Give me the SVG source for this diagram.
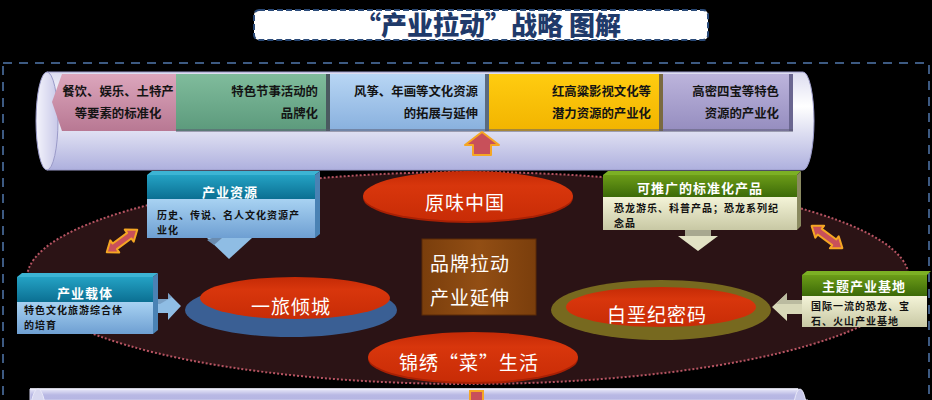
<svg xmlns="http://www.w3.org/2000/svg" width="932" height="400" viewBox="0 0 932 400">
<defs>
<style>
.cjk{font-family:"Noto Sans CJK SC","Noto Sans",sans-serif;}
.pipeT{font-size:12.4px;font-weight:700;fill:#141414;}
.ellT{font-size:19px;fill:#ffffff;text-anchor:middle;letter-spacing:1px;}
.hdrT{font-size:13px;font-weight:700;fill:#ffffff;text-anchor:middle;letter-spacing:1px;}
.bodyT{font-size:10px;font-weight:700;fill:#111111;letter-spacing:1px;}
.dbl{fill:#c8505a;stroke:#f5a623;stroke-width:2;stroke-linejoin:round;}
</style>
<linearGradient id="gPipe" x1="0" y1="0" x2="0" y2="1">
<stop offset="0" stop-color="#dcdcf0"/><stop offset="0.35" stop-color="#ffffff"/><stop offset="1" stop-color="#aeb0de"/>
</linearGradient>
<linearGradient id="gCap" x1="0" y1="0" x2="1" y2="0">
<stop offset="0" stop-color="#f4f4fc"/><stop offset="1" stop-color="#c8c8e8"/>
</linearGradient>
<linearGradient id="gPipe2" x1="0" y1="0" x2="0" y2="1">
<stop offset="0" stop-color="#e8e8f8"/><stop offset="0.15" stop-color="#b8b8e4"/><stop offset="1" stop-color="#a8a8dc"/>
</linearGradient>
<linearGradient id="gPink" x1="0" y1="0" x2="0" y2="1"><stop offset="0" stop-color="#dca6bc"/><stop offset="1" stop-color="#b87893"/></linearGradient>
<linearGradient id="gGreen" x1="0" y1="0" x2="0" y2="1"><stop offset="0" stop-color="#80bc9c"/><stop offset="1" stop-color="#5c9a7c"/></linearGradient>
<linearGradient id="gBlue" x1="0" y1="0" x2="0" y2="1"><stop offset="0" stop-color="#b8d6f4"/><stop offset="1" stop-color="#88b0de"/></linearGradient>
<linearGradient id="gYellow" x1="0" y1="0" x2="0" y2="1"><stop offset="0" stop-color="#ffcc10"/><stop offset="1" stop-color="#f2b400"/></linearGradient>
<linearGradient id="gLav" x1="0" y1="0" x2="0" y2="1"><stop offset="0" stop-color="#bcb4dc"/><stop offset="1" stop-color="#958dbf"/></linearGradient>
<linearGradient id="gRed" x1="0" y1="0" x2="0" y2="1"><stop offset="0" stop-color="#c42a06"/><stop offset="0.3" stop-color="#d8360c"/><stop offset="1" stop-color="#c82c06"/></linearGradient>
<linearGradient id="gTeal" x1="0" y1="0" x2="0" y2="1"><stop offset="0" stop-color="#24a2c4"/><stop offset="1" stop-color="#0b6f92"/></linearGradient>
<linearGradient id="gLB" x1="0" y1="0" x2="0" y2="1"><stop offset="0" stop-color="#a8d2f2"/><stop offset="1" stop-color="#6e9fd2"/></linearGradient>
<linearGradient id="gGr" x1="0" y1="0" x2="0" y2="1"><stop offset="0" stop-color="#6c9c18"/><stop offset="1" stop-color="#3c6a08"/></linearGradient>
<linearGradient id="gCream" x1="0" y1="0" x2="0" y2="1"><stop offset="0" stop-color="#f4f4d8"/><stop offset="1" stop-color="#c8c8a4"/></linearGradient>
<linearGradient id="gBrown" x1="0" y1="0" x2="1" y2="0"><stop offset="0" stop-color="#7a3e0c"/><stop offset="0.5" stop-color="#924e14"/><stop offset="1" stop-color="#7a3e0c"/></linearGradient>
</defs>

<rect x="0" y="0" width="932" height="400" fill="#000000"/>

<!-- title -->
<g id="title">
<rect x="254" y="10" width="454" height="30" rx="5" fill="#ffffff" stroke="#2a4a78" stroke-width="2" stroke-dasharray="6 3"/>
<text class="cjk" x="488" y="35" font-size="26" font-weight="900" fill="#1f3a6a" text-anchor="middle">“产业拉动”战略 图解</text>
</g>

<!-- outer dashed frame -->
<rect x="3" y="63" width="926" height="360" fill="none" stroke="#3d5a82" stroke-width="2" stroke-dasharray="9 7"/>

<!-- top pipe -->
<g id="topPipe">
<path d="M47 72 H803 A11 49 0 0 1 803 170 H47 Z" fill="url(#gPipe)" stroke="#9a9ac8" stroke-width="1"/>
<ellipse cx="47" cy="121" rx="11" ry="49" fill="url(#gCap)" stroke="#9a9ac8" stroke-width="1"/>
<polygon points="52,102 62,74 176,74 176,131 62,131" fill="url(#gPink)"/>
<rect x="176" y="74" width="154" height="57" fill="url(#gGreen)"/>
<rect x="326" y="74" width="4" height="57" fill="#4a5a60"/>
<rect x="330" y="74" width="159" height="57" fill="url(#gBlue)"/>
<rect x="485" y="74" width="4" height="57" fill="#5a6a80"/>
<rect x="489" y="74" width="174" height="57" fill="url(#gYellow)"/>
<rect x="659" y="74" width="4" height="57" fill="#7a6a40"/>
<rect x="663" y="74" width="130" height="57" fill="url(#gLav)"/>
<rect x="789" y="74" width="4" height="57" fill="#6a6690"/>
<rect x="176" y="129" width="617" height="3" fill="#5a5a70" opacity="0.5"/>
<text class="cjk pipeT" x="118" y="96" text-anchor="middle">餐饮、娱乐、土特产</text>
<text class="cjk pipeT" x="118" y="118" text-anchor="middle">等要素的标准化</text>
<text class="cjk pipeT" x="318" y="96" text-anchor="end">特色节事活动的</text>
<text class="cjk pipeT" x="318" y="118" text-anchor="end">品牌化</text>
<text class="cjk pipeT" x="478" y="96" text-anchor="end">风筝、年画等文化资源</text>
<text class="cjk pipeT" x="478" y="118" text-anchor="end">的拓展与延伸</text>
<text class="cjk pipeT" x="651" y="96" text-anchor="end">红高粱影视文化等</text>
<text class="cjk pipeT" x="651" y="118" text-anchor="end">潜力资源的产业化</text>
<text class="cjk pipeT" x="779" y="96" text-anchor="end">高密四宝等特色</text>
<text class="cjk pipeT" x="779" y="118" text-anchor="end">资源的产业化</text>
</g>

<!-- bottom pipe -->
<g id="bottomPipe">
<path d="M30 389 H798 A10 40 0 0 1 808 429 L808 400 H30 Z" fill="url(#gPipe2)" stroke="#d0d0ec" stroke-width="1"/>
<path d="M30 389 H798" stroke="#f0f0fc" stroke-width="1.5" fill="none"/>
<ellipse cx="38" cy="429" rx="9" ry="40" fill="#d8d8f0" stroke="#e8e8f8"/>
<ellipse cx="800" cy="429" rx="8" ry="40" fill="#c8c8ea" stroke="#e8e8f8"/>
<rect x="470" y="391" width="13" height="12" fill="#c8505a" stroke="#f5a623" stroke-width="2"/>
</g>

<!-- big ellipse -->
<ellipse id="field" cx="468" cy="278" rx="441" ry="106" fill="#2b1315" stroke="#b65462" stroke-width="2" stroke-dasharray="2 2"/>

<g id="connectors">
<polygon points="482,132 499,145 491,145 491,155 473,155 473,145 465,145" fill="#c8505a" stroke="#f5a623" stroke-width="2" stroke-linejoin="round"/>
<polygon class="dbl" transform="translate(122,241) rotate(-36.6)" points="-19,0 -9,-7.5 -9,-3.5 9,-3.5 9,-7.5 19,0 9,7.5 9,3.5 -9,3.5 -9,7.5"/>
<polygon class="dbl" transform="translate(827,237) rotate(36)" points="-19,0 -9,-7.5 -9,-3.5 9,-3.5 9,-7.5 19,0 9,7.5 9,3.5 -9,3.5 -9,7.5"/>
<polygon points="207,238 252,238 229,259" fill="#8fbde4"/>
<polygon points="212,238 222,238 214,245 207,240" fill="#6a8cb0"/>
<polygon points="155,299 168,299 168,293 181,306 168,320 168,313 155,313" fill="#8fbde4"/>
<polygon points="155,299 168,299 168,293 172,297 160,304 155,304" fill="#6a8cb0" opacity="0.6"/>
<polygon points="685,230 711,230 711,236 718,236 698,251 678,236 685,236" fill="#e2e2c4"/>
<polygon points="685,230 711,230 711,236 685,236" fill="#a8a890"/>
<polygon points="802,300 787,300 787,293 772,307 787,321 787,314 802,314" fill="#d8d8b8"/>
<polygon points="802,300 787,300 787,293 776,304 802,304" fill="#a8a890" opacity="0.6"/>
</g>

<!-- center box -->
<g id="center">
<rect x="422" y="239" width="114" height="76" fill="url(#gBrown)" stroke="#5a2a08" stroke-width="1"/>
<text class="cjk ellT" x="470" y="271" font-size="18">品牌拉动</text>
<text class="cjk ellT" x="470" y="305" font-size="18">产业延伸</text>
</g>

<g id="yuanwei">
<ellipse cx="468" cy="198" rx="105" ry="25" fill="#a82004"/>
<ellipse cx="468" cy="196" rx="105" ry="25" fill="url(#gRed)"/>
<text class="cjk ellT" x="465" y="210">原味中国</text>
</g>

<g id="jinxiu">
<ellipse cx="473" cy="359" rx="105" ry="25" fill="#a82004"/>
<ellipse cx="473" cy="357" rx="105" ry="25" fill="url(#gRed)"/>
<text class="cjk ellT" x="469" y="370">锦绣“菜”生活</text>
</g>

<g id="yilv">
<ellipse cx="291" cy="310" rx="106" ry="27" fill="#3a5f94"/>
<ellipse cx="295" cy="298" rx="95" ry="21" fill="url(#gRed)"/>
<text class="cjk ellT" x="291" y="314">一旅倾城</text>
</g>

<g id="baie">
<ellipse cx="661" cy="310" rx="110" ry="30" fill="#77691f"/>
<ellipse cx="661" cy="307" rx="95" ry="20" fill="url(#gRed)"/>
<text class="cjk ellT" x="657" y="322">白垩纪密码</text>
</g>

<!-- left boxes -->
<g id="chanyeziyuan">
<polygon points="147,175 152,171 320,171 315,175" fill="#3cb4d4"/>
<polygon points="315,175 320,171 320,234 315,238" fill="#4a82b4"/>
<rect x="147" y="175" width="168" height="24" fill="url(#gTeal)"/>
<rect x="147" y="199" width="168" height="39" fill="url(#gLB)"/>
<text class="cjk hdrT" x="230" y="197">产业资源</text>
<text class="cjk bodyT" x="157" y="219">历史、传说、名人文化资源产</text>
<text class="cjk bodyT" x="157" y="233.5">业化</text>
</g>

<g id="chanyezaiti">
<polygon points="17,277 22,273 158,273 153,277" fill="#3cb4d4"/>
<polygon points="153,277 158,273 158,330 153,334" fill="#4a82b4"/>
<rect x="17" y="277" width="136" height="25" fill="url(#gTeal)"/>
<rect x="17" y="302" width="136" height="32" fill="url(#gLB)"/>
<text class="cjk hdrT" x="85" y="298">产业载体</text>
<text class="cjk bodyT" x="24" y="314">特色文化旅游综合体</text>
<text class="cjk bodyT" x="24" y="328.5">的培育</text>
</g>

<!-- right boxes -->
<g id="kefuguang">
<polygon points="603,175 608,171 801,171 797,175" fill="#7cb024"/>
<polygon points="797,175 801,171 801,226 797,230" fill="#8a8a60"/>
<rect x="603" y="175" width="194" height="22" fill="url(#gGr)"/>
<rect x="603" y="197" width="194" height="33" fill="url(#gCream)"/>
<text class="cjk hdrT" x="700" y="193">可推广的标准化产品</text>
<text class="cjk bodyT" x="614" y="212">恐龙游乐、科普产品；恐龙系列纪</text>
<text class="cjk bodyT" x="614" y="226.5">念品</text>
</g>

<g id="zhuti">
<polygon points="802,275 807,271 931,271 927,275" fill="#7cb024"/>
<rect x="802" y="275" width="125" height="21" fill="url(#gGr)"/>
<rect x="802" y="296" width="125" height="31" fill="url(#gCream)"/>
<text class="cjk hdrT" x="864" y="291">主题产业基地</text>
<text class="cjk bodyT" x="811" y="310">国际一流的恐龙、宝</text>
<text class="cjk bodyT" x="811" y="324.5">石、火山产业基地</text>
</g>
</svg>
